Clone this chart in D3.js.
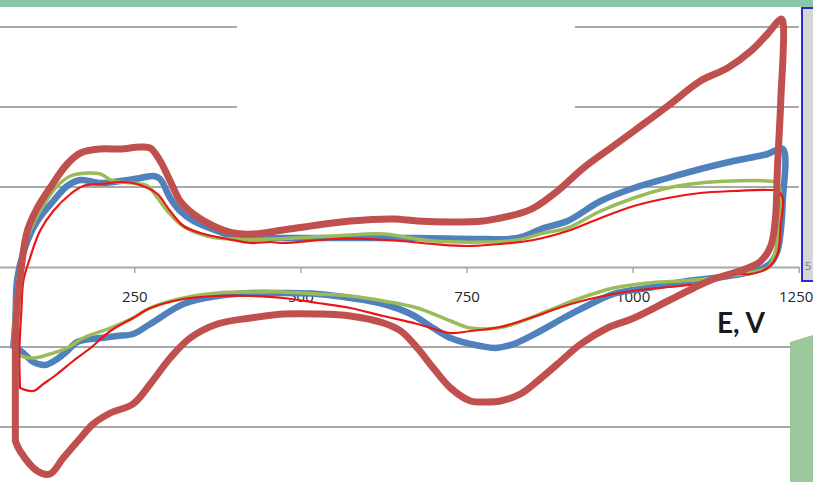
<!DOCTYPE html>
<html>
<head>
<meta charset="utf-8">
<script src="https://cdn.jsdelivr.net/npm/d3@7"></script>
<style>
  html, body { margin: 0; padding: 0; background: #ffffff; overflow: hidden; }
  svg { display: block; }
</style>
</head>
<body>
<svg id="cv" width="813" height="482"></svg>
<script>
// Cyclic voltammograms: potential E (mV) against current (a.u.)
const E_TICKS = [250, 500, 750, 1000, 1250];
const E_TICK_LABELS = ["250", "500", "750", "1000", "1250"];
const I_GRID = [-40, -20, 20, 40, 60];
const AXIS_TITLE = "E, V";

// Each cycle: forward (anodic) scan then reverse (cathodic) scan, [E, I]
const brownAnodic = [[71,-43.5],[71,-28.5],[72,-13.5],[78,-2.75],[89,9],[104,14.75],[123,19.75],[149,25.75],[169,28.5],[199,29.5],[229,29.5],[259,30],[274,29.75],[289,26.5],[304,21.5],[319,16.5],[339,13.25],[369,10.25],[399,8.5],[429,8.25],[474,9.25],[526,10.5],[575,11.5],[640,12],[676,11.5],[726,11.25],[775,11.5],[801,12.25],[827,13.25],[851,14.75],[887,19],[926,24.75],[967,29.75],[1002,34],[1053,40.25],[1102,46.5],[1143,49.75],[1178,54],[1203,58.25],[1223,62]];
const brownCathodic = [[1226,61.5],[1223,41.5],[1218,24.75],[1215,12.25],[1208,5.25],[1193,1.5],[1170,-0.5],[1152,-1.5],[1122,-3],[1092,-5.25],[1053,-8.5],[1002,-12.75],[962,-15.25],[922,-19.25],[887,-24.25],[857,-28.5],[831,-31.75],[801,-33.5],[778,-33.75],[756,-33.5],[726,-30.25],[700,-25.25],[676,-20.25],[651,-16],[625,-14],[575,-12.25],[526,-11.75],[474,-11.75],[425,-12.75],[375,-14.25],[334,-17.75],[304,-22.75],[274,-29.25],[248,-34.25],[214,-36.5],[188,-39.25],[169,-42.75],[143,-47.75],[123,-51.75],[104,-51],[78,-46],[71,-43.5]];

const blueAnodic = [[68,-19.75],[71,-13.5],[74,-2.75],[89,6.5],[104,11.5],[128,16.5],[149,20.25],[169,21.75],[199,21],[229,21.5],[259,22.25],[279,22.75],[289,22],[304,17.25],[319,14],[339,11.5],[375,9],[410,7.25],[455,7.25],[575,7.25],[676,7.25],[775,7],[827,7.25],[866,9.75],[902,11.5],[952,16.5],[1002,19.75],[1053,22.25],[1102,24.5],[1152,26.5],[1203,28.25],[1226,29.5]];
const blueCathodic = [[1226,16.5],[1223,9],[1218,4],[1208,1],[1193,-0.5],[1163,-1.75],[1122,-2.75],[1083,-3.5],[1023,-5.25],[971,-6.75],[937,-9.25],[896,-12.75],[861,-16],[821,-19.25],[794,-20.25],[771,-19.75],[756,-19.25],[726,-17.75],[700,-15.25],[666,-11.75],[625,-9.25],[575,-7.75],[526,-6.75],[474,-6.5],[425,-6.5],[375,-7.25],[324,-9.25],[274,-14.25],[248,-16.75],[224,-17.25],[199,-17.75],[164,-18.75],[149,-21],[134,-23],[116,-24.5],[98,-23.75],[83,-21.5],[68,-19.75]];

const greenAnodic = [[68,-20.25],[69,-13.5],[74,-4.75],[81,2.75],[93,9],[108,14],[134,20.25],[154,22.75],[179,23.5],[199,23.25],[218,21.5],[248,21],[270,20.25],[285,17.25],[300,14],[319,10.75],[345,8.5],[375,7.25],[410,7],[455,7],[550,7.75],[625,8.25],[666,7.25],[700,6.5],[775,6.25],[827,6.75],[866,8.5],[902,9.75],[952,14],[1002,17.25],[1053,19.75],[1102,21],[1152,21.5],[1203,21.5],[1218,21]];
const greenCathodic = [[1223,17.25],[1220,9],[1212,2.25],[1203,-0.25],[1173,-1.5],[1122,-2.75],[1072,-3.5],[1023,-4],[971,-5.25],[922,-7.75],[872,-11],[821,-14.25],[797,-15.25],[756,-15.25],[726,-13.5],[676,-10.25],[625,-8.5],[575,-7.25],[526,-6.75],[474,-6.25],[425,-6.25],[375,-6.5],[324,-7.75],[274,-10.25],[248,-12.75],[214,-15.25],[173,-17.75],[149,-20.25],[123,-21.75],[98,-22.75],[74,-21.75],[68,-20.25]];

const redAnodic = [[78,-30.25],[77,-21],[80,-11],[83,-3.5],[93,2.25],[108,9],[128,14],[154,18.25],[173,20.25],[199,20.75],[229,21.25],[248,21],[270,19.75],[285,18.25],[304,14],[324,10.25],[349,8.5],[390,7],[425,6],[455,6.25],[474,6],[550,7],[601,7],[651,6.5],[700,5.75],[751,5.25],[801,5.75],[851,6.75],[902,9],[952,12.25],[1002,15.25],[1053,17.25],[1102,18.5],[1152,19],[1203,19.25],[1218,19]];
const redCathodic = [[1226,17.25],[1223,10.75],[1218,3.25],[1203,-0.25],[1178,-1.75],[1152,-1.75],[1122,-3.5],[1072,-4.75],[1023,-5.5],[971,-6.75],[907,-9.25],[846,-12.75],[801,-15],[756,-16],[726,-16.5],[676,-14.25],[625,-12.25],[575,-10.25],[526,-9],[474,-7.75],[425,-7.25],[375,-7.25],[324,-8],[274,-10.25],[248,-12.75],[214,-16],[184,-20.25],[158,-23.5],[134,-26.75],[113,-29.25],[98,-31],[78,-30.25]];

const svg = d3.select("#cv");

const x = d3.scaleLinear().domain([0, 1250]).range([-31.8, 798.7]);
const y = d3.scaleLinear().domain([-60, 60]).range([507, 27]);

// header band
svg.append("rect").attr("x", 0).attr("y", 0).attr("width", 813).attr("height", 7)
  .attr("fill", "#87c8a8");

// horizontal gridlines
svg.append("g").selectAll("line").data(I_GRID).join("line")
  .attr("x1", 0).attr("x2", x(1250))
  .attr("y1", d => y(d)).attr("y2", d => y(d))
  .attr("stroke", "#a8a8a8").attr("stroke-width", 1.8);

// blank panel over the upper gridlines
svg.append("rect").attr("x", 237).attr("y", 12).attr("width", 338).attr("height", 110)
  .attr("fill", "#ffffff");

// potential axis
const axis = d3.axisBottom(x)
  .tickValues(E_TICKS)
  .tickFormat((d, i) => E_TICK_LABELS[i])
  .tickSize(6).tickSizeOuter(0).tickPadding(18);
const gAxis = svg.append("g").attr("transform", `translate(0,${y(0)})`).call(axis);
gAxis.select(".domain").attr("stroke", "#a8a8a8").attr("stroke-width", 1.8);
gAxis.selectAll(".tick line").attr("stroke", "#a8a8a8").attr("stroke-width", 1.5);
gAxis.selectAll(".tick text")
  .attr("fill", "#262626")
  .style("font-family", "'Open Sans', 'Liberation Sans', sans-serif")
  .style("font-size", "15px");
// keep the last label inside the frame
gAxis.selectAll(".tick text").filter(d => d === 1250).attr("dx", -3);

svg.append("text").attr("x", 717).attr("y", 333)
  .attr("fill", "#1a1a1a")
  .style("font-family", "Lato, 'Open Sans', sans-serif")
  .style("font-weight", "bold").style("font-size", "28px")
  .text(AXIS_TITLE);

// voltammograms
const line = d3.line()
  .x(d => x(d[0])).y(d => y(d[1]))
  .curve(d3.curveCatmullRom.alpha(0.5));

const cycles = [
  { name: "blue",  pts: blueAnodic.concat(blueCathodic),   color: "#4f81bd", width: 6.5 },
  { name: "green", pts: greenAnodic.concat(greenCathodic), color: "#9bbb59", width: 3.5 },
  { name: "red",   pts: redAnodic.concat(redCathodic),     color: "#ea1515", width: 2.2 },
  { name: "brown", pts: brownAnodic.concat(brownCathodic), color: "#c0504d", width: 7 }
];

svg.append("g").selectAll("path").data(cycles).join("path")
  .attr("d", d => line(d.pts))
  .attr("fill", "none")
  .attr("stroke", d => d.color)
  .attr("stroke-width", d => d.width)
  .attr("stroke-linejoin", "round")
  .attr("stroke-linecap", "round");

// side panel framed in blue
svg.append("rect").attr("x", 802).attr("y", 8).attr("width", 20).attr("height", 273)
  .attr("fill", "#d6d6d6").attr("stroke", "#2b2bd0").attr("stroke-width", 2);
svg.append("text").attr("x", 805).attr("y", 270)
  .attr("fill", "#777").style("font-family", "'Open Sans', sans-serif").style("font-size", "11px")
  .text("5");

// green corner panel
svg.append("polygon")
  .attr("points", "790,342 813,335 813,482 790,482")
  .attr("fill", "#9dc79c");
</script>
</body>
</html>
